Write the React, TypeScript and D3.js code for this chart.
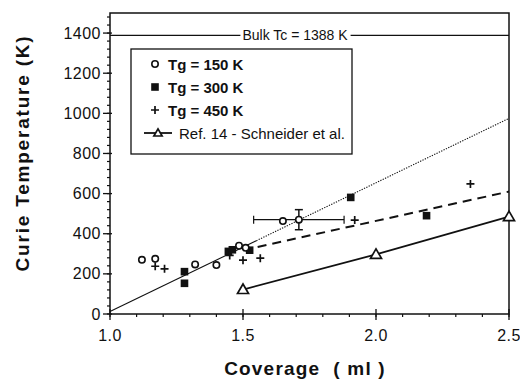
import React, { useEffect, useRef } from 'react'
import * as d3 from 'd3'

// values
const tg150 = [
  { x: 1.12, y: 270 }, { x: 1.17, y: 275 }, { x: 1.32, y: 247 }, { x: 1.40, y: 244 },
  { x: 1.485, y: 340 }, { x: 1.51, y: 330 }, { x: 1.65, y: 463 }, { x: 1.71, y: 470 },
]
const tg150Err = { x: 1.71, y: 470, xLo: 1.54, xHi: 1.88, yLo: 420, yHi: 520 }
const tg300 = [
  { x: 1.28, y: 211 }, { x: 1.28, y: 153 }, { x: 1.445, y: 312 }, { x: 1.46, y: 320 },
  { x: 1.525, y: 318 }, { x: 1.905, y: 581 }, { x: 2.19, y: 490 },
]
const tg450 = [
  { x: 1.17, y: 238 }, { x: 1.205, y: 225 }, { x: 1.45, y: 292 }, { x: 1.50, y: 268 },
  { x: 1.565, y: 278 }, { x: 1.92, y: 468 }, { x: 2.355, y: 648 },
]
const ref14 = [{ x: 1.5, y: 122 }, { x: 2.0, y: 297 }, { x: 2.5, y: 485 }]
const fitLine = [{ x: 1.0, y: 12 }, { x: 2.5, y: 975 }]
const fitSolidUntil = 1.55
const dashedLine = [{ x: 1.5, y: 318 }, { x: 2.5, y: 610 }]
const bulkTc = 1388
const xTicks = [1.0, 1.5, 2.0, 2.5]
const yTicks = [0, 200, 400, 600, 800, 1000, 1200, 1400]
const legendLabels = ['Tg = 150 K', 'Tg = 300 K', 'Tg = 450 K', 'Ref. 14 - Schneider et al.']

const FONT = '"Liberation Sans", Arial, Helvetica, sans-serif'

export default function App() {
  const ref = useRef<SVGSVGElement>(null)

  useEffect(() => {
    if (!ref.current) return
    const svg = d3.select(ref.current)
    svg.selectAll('*').remove()

    const left = 110, right = 509, top = 13, bottom = 314
    const x = d3.scaleLinear().domain([1.0, 2.5]).range([left, right])
    const y = d3.scaleLinear().domain([0, 1500]).range([bottom, top])

    svg.append('rect').attr('width', 520).attr('height', 386).attr('fill', '#fff')

    const g = svg.append('g').attr('font-family', FONT).attr('fill', '#111')

    // frame
    g.append('rect')
      .attr('x', left).attr('y', top)
      .attr('width', right - left).attr('height', bottom - top)
      .attr('fill', 'none').attr('stroke', '#111').attr('stroke-width', 1.5)

    // y ticks
    d3.range(0, 1500, 40).forEach(v => {
      g.append('line').attr('x1', left - 3).attr('x2', left)
        .attr('y1', y(v)).attr('y2', y(v)).attr('stroke', '#111').attr('stroke-width', 1.2)
    })
    yTicks.forEach(v => {
      g.append('line').attr('x1', left - 7).attr('x2', left + 2)
        .attr('y1', y(v)).attr('y2', y(v)).attr('stroke', '#111').attr('stroke-width', 1.3)
      g.append('text').attr('x', left - 9).attr('y', y(v) + 5.5)
        .attr('text-anchor', 'end').attr('font-size', 16).attr('letter-spacing', 0.5)
        .text(v)
    })

    // x ticks
    d3.range(1.0, 2.5001, 0.1).forEach(v => {
      g.append('line').attr('x1', x(v)).attr('x2', x(v))
        .attr('y1', bottom).attr('y2', bottom + 3).attr('stroke', '#111').attr('stroke-width', 1.2)
    })
    xTicks.forEach(v => {
      g.append('line').attr('x1', x(v)).attr('x2', x(v))
        .attr('y1', bottom - 5).attr('y2', bottom + 6).attr('stroke', '#111').attr('stroke-width', 1.3)
      g.append('text').attr('x', x(v)).attr('y', bottom + 27)
        .attr('text-anchor', 'middle').attr('font-size', 16).attr('letter-spacing', 0.5)
        .text(d3.format('.1f')(v))
    })

    // axis titles
    g.append('text')
      .attr('transform', `translate(29,153) rotate(-90)`)
      .attr('text-anchor', 'middle').attr('font-size', 19).attr('font-weight', 'bold')
      .attr('letter-spacing', 1.8)
      .text('Curie Temperature (K)')
    g.append('text')
      .attr('x', 305).attr('y', 375)
      .attr('text-anchor', 'middle').attr('font-size', 19).attr('font-weight', 'bold')
      .attr('letter-spacing', 1.2)
      .attr('xml:space', 'preserve')
      .text('Coverage  ( ml )')

    // bulk Tc reference line with label
    const bulkLabel = g.append('text')
      .attr('x', 295).attr('y', y(bulkTc) + 5)
      .attr('text-anchor', 'middle').attr('font-size', 14)
      .text(`Bulk Tc = ${bulkTc} K`)
    const bw = (bulkLabel.node() as SVGTextElement).getComputedTextLength()
    g.append('line').attr('x1', left).attr('x2', 295 - bw / 2 - 2)
      .attr('y1', y(bulkTc)).attr('y2', y(bulkTc)).attr('stroke', '#111').attr('stroke-width', 1.3)
    g.append('line').attr('x1', 295 + bw / 2 + 3).attr('x2', right)
      .attr('y1', y(bulkTc)).attr('y2', y(bulkTc)).attr('stroke', '#111').attr('stroke-width', 1.3)

    const line = d3.line<{ x: number, y: number }>().x(d => x(d.x)).y(d => y(d.y))

    // fitted line: solid near the origin, fine dotted further up
    const fitAt = (c: number) => fitLine[0].y + (c - fitLine[0].x) * (fitLine[1].y - fitLine[0].y) / (fitLine[1].x - fitLine[0].x)
    const solidPart = [fitLine[0], { x: fitSolidUntil, y: fitAt(fitSolidUntil) }]
    const dottedPart = [{ x: fitSolidUntil, y: fitAt(fitSolidUntil) }, fitLine[1]]
    g.append('path').attr('d', line(solidPart)).attr('fill', 'none')
      .attr('stroke', '#111').attr('stroke-width', 1.1)
    g.append('path').attr('d', line(dottedPart)).attr('fill', 'none')
      .attr('stroke', '#111').attr('stroke-width', 1.1).attr('stroke-dasharray', '1.3,1.3')

    // dashed line
    g.append('path').attr('d', line(dashedLine)).attr('fill', 'none')
      .attr('stroke', '#111').attr('stroke-width', 2).attr('stroke-dasharray', '9,6')

    // Ref 14 line
    g.append('path').attr('d', line(ref14)).attr('fill', 'none')
      .attr('stroke', '#111').attr('stroke-width', 1.8)

    // error bars
    const e = tg150Err
    g.append('line').attr('x1', x(e.xLo)).attr('x2', x(e.xHi))
      .attr('y1', y(e.y)).attr('y2', y(e.y)).attr('stroke', '#111').attr('stroke-width', 1.3)
    g.append('line').attr('x1', x(e.x)).attr('x2', x(e.x))
      .attr('y1', y(e.yLo)).attr('y2', y(e.yHi)).attr('stroke', '#111').attr('stroke-width', 1.5)
    ;[e.xLo, e.xHi].forEach(v => g.append('line').attr('x1', x(v)).attr('x2', x(v))
      .attr('y1', y(e.y) - 4).attr('y2', y(e.y) + 4).attr('stroke', '#111').attr('stroke-width', 1.2))
    ;[e.yLo, e.yHi].forEach(v => g.append('line').attr('x1', x(e.x) - 4).attr('x2', x(e.x) + 4)
      .attr('y1', y(v)).attr('y2', y(v)).attr('stroke', '#111').attr('stroke-width', 1.5))

    // markers
    const circle = (sel: any, cx: number, cy: number) =>
      sel.append('circle').attr('cx', cx).attr('cy', cy).attr('r', 3.2)
        .attr('fill', '#fff').attr('stroke', '#111').attr('stroke-width', 1.6)
    const square = (sel: any, cx: number, cy: number) =>
      sel.append('rect').attr('x', cx - 3.8).attr('y', cy - 3.8).attr('width', 7.6).attr('height', 7.6)
        .attr('fill', '#111')
    const plus = (sel: any, cx: number, cy: number) =>
      sel.append('path').attr('d', `M${cx - 4},${cy}H${cx + 4}M${cx},${cy - 4}V${cy + 4}`)
        .attr('stroke', '#111').attr('stroke-width', 1.7)
    const tri = (sel: any, cx: number, cy: number, s = 1) =>
      sel.append('path').attr('d', `M${cx},${cy - 5.5 * s}L${cx + 5.5 * s},${cy + 4 * s}L${cx - 5.5 * s},${cy + 4 * s}Z`)
        .attr('fill', '#fff').attr('stroke', '#111').attr('stroke-width', 1.7)

    tg300.forEach(d => square(g, x(d.x), y(d.y)))
    tg450.forEach(d => plus(g, x(d.x), y(d.y)))
    tg150.forEach(d => circle(g, x(d.x), y(d.y)))
    ref14.forEach(d => tri(g, x(d.x), y(d.y)))

    // legend
    const lg = g.append('g')
    lg.append('rect').attr('x', 131).attr('y', 49).attr('width', 221).attr('height', 105)
      .attr('fill', '#fff').attr('stroke', '#111').attr('stroke-width', 1.3)
    const rows = [64, 87, 110, 133]
    circle(lg, 155, rows[0])
    square(lg, 155, rows[1])
    plus(lg, 155, rows[2])
    lg.append('line').attr('x1', 144).attr('x2', 172).attr('y1', rows[3]).attr('y2', rows[3])
      .attr('stroke', '#111').attr('stroke-width', 1.8)
    tri(lg, 158, rows[3], 0.75)
    legendLabels.forEach((t, i) => {
      lg.append('text').attr('x', i < 3 ? 168 : 179).attr('y', rows[i] + 5.5)
        .attr('font-size', 15).attr('font-weight', i < 3 ? 'bold' : 'normal')
        .text(t)
    })
  }, [])

  return (
    <svg ref={ref} width={520} height={386}
      style={{ position: 'absolute', left: 0, top: 0, display: 'block' }} />
  )
}
